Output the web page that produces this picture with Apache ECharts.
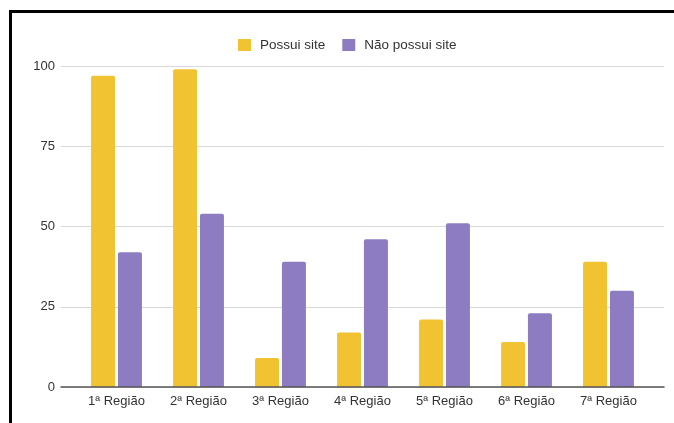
<!DOCTYPE html>
<html><head><meta charset="utf-8">
<script src="https://cdn.jsdelivr.net/npm/echarts@6/dist/echarts.min.js"></script>
<style>html,body{margin:0;padding:0;background:#fff}#c{width:674px;height:423px;position:relative}
#bt{position:absolute;left:9px;top:10px;width:665px;height:3px;background:#000}
#bl{position:absolute;left:9px;top:10px;width:3px;height:413px;background:#000}
</style></head>
<body><div id="c"></div><div id="bt"></div><div id="bl"></div>
<script>
const categories = ["1ª Região","2ª Região","3ª Região","4ª Região","5ª Região","6ª Região","7ª Região"];
const possuiSite = [97, 99, 9, 17, 21, 14, 39];
const naoPossuiSite = [42, 54, 39, 46, 51, 23, 30];
const yTicks = [0, 25, 50, 75, 100];
const seriesNames = ["Possui site", "Não possui site"];

const font = 'Liberation Sans, Arial, sans-serif';
const chart = echarts.init(document.getElementById('c'));
chart.setOption({
  animation: false,
  textStyle: {fontFamily: font},
  legend: {
    left: 233, top: 33, itemWidth: 13, itemHeight: 12, itemGap: 17,
    icon: 'rect',
    textStyle: {fontSize: 13.5, color: '#333', fontFamily: font, padding: [0, 0, 0, 4]},
    data: seriesNames
  },
  grid: [
    {left: 61, right: 10, top: 66, bottom: 36},
    {left: 75.5, right: 24.5, top: 66, bottom: 36}
  ],
  xAxis: [
    {type: 'category', gridIndex: 0, data: [''],
     axisTick: {show: false}, axisLabel: {show: false},
     axisLine: {lineStyle: {color: '#555', width: 1.5}}, z: 5},
    {type: 'category', gridIndex: 1, data: categories,
     axisTick: {show: false}, axisLine: {show: false},
     axisLabel: {fontSize: 13, color: '#333', margin: 8}}
  ],
  yAxis: [
    {type: 'value', gridIndex: 0, min: yTicks[0], max: yTicks[yTicks.length-1], interval: 25,
     axisLine: {show: false}, axisTick: {show: false},
     axisLabel: {fontSize: 13, color: '#333', margin: 6},
     splitLine: {lineStyle: {color: '#d9d9d9', width: 1}}},
    {type: 'value', gridIndex: 1, min: yTicks[0], max: yTicks[yTicks.length-1], interval: 25,
     show: false, splitLine: {show: false}}
  ],
  series: [
    {name: seriesNames[0], type: 'bar', xAxisIndex: 1, yAxisIndex: 1, data: possuiSite,
     barWidth: 24, barGap: '12%',
     itemStyle: {color: '#F1C232', borderRadius: [2,2,0,0]}},
    {name: seriesNames[1], type: 'bar', xAxisIndex: 1, yAxisIndex: 1, data: naoPossuiSite,
     barWidth: 24,
     itemStyle: {color: '#8E7CC3', borderRadius: [2,2,0,0]}}
  ]
});
</script></body></html>
